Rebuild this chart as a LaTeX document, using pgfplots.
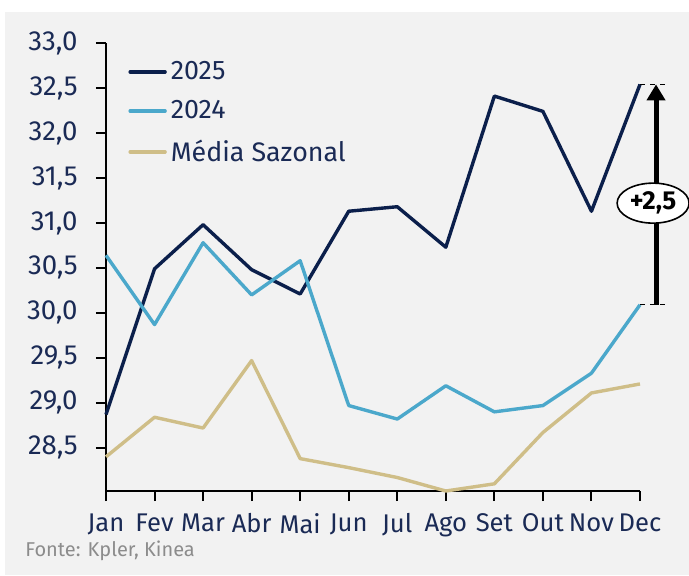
\documentclass[border=0pt]{standalone}
\usepackage{fontspec}
\setmainfont{Fira Sans}
\usepackage{pgfplots}
\pgfplotsset{compat=1.18}
\usetikzlibrary{arrows.meta,shapes.geometric}

\definecolor{navy}{HTML}{0B1F4B}
\definecolor{sky}{HTML}{4BA8CB}
\definecolor{sand}{HTML}{CFBE88}
\definecolor{txt}{HTML}{1A2A55}
\definecolor{bg}{HTML}{F2F2F2}

\begin{document}
\begin{tikzpicture}
\useasboundingbox (-53pt,-42pt) rectangle (291.5pt,245.5pt);
\fill[white] (-53pt,-42pt) rectangle (291.5pt,245.5pt);
\fill[bg] (-50.5pt,-42pt) rectangle (291.5pt,239.5pt);
\node[anchor=west, inner sep=0pt, text=black!45, font=\fontsize{10}{12}\selectfont]
  at (-40.5pt,-30pt) {Fonte: Kpler, Kinea};

\begin{axis}[
    at={(0,0)}, anchor=south west,
    scale only axis,
    width=267pt, height=224pt,
    xmin=1, xmax=12, ymin=28.02, ymax=33,
    axis lines*=left,
    axis line style={black, line width=1pt},
    xtick={1,...,12},
    xticklabels={Jan,Fev,Mar,Abr,Mai,Jun,Jul,Ago,Set,Out,Nov,Dec},
    ytick={28.5,29,...,33},
    tick align=outside,
    major tick length=5pt,
    tick style={black, line width=1pt},
    /pgf/number format/.cd, use comma, fixed, fixed zerofill, precision=1, assume math mode=true,
    /pgfplots/.cd,
    ticklabel style={text=txt},
    yticklabel style={font=\fontsize{13.8}{16}\selectfont, inner sep=0pt, xshift=-9pt},
    xticklabel style={font=\fontsize{12.8}{15}\selectfont, inner sep=0pt, yshift=-6pt},
    clip=false,
    legend cell align=left,
    legend image code/.code={\draw[#1, line cap=round] (0pt,0pt) -- (17.5pt,0pt);},
    legend style={draw=none, fill=none, at={(rel axis cs:0.03,0.978)}, anchor=north west,
        font=\fontsize{13.4}{16}\selectfont, text=txt, row sep=5pt},
    every axis plot/.append style={line width=1.7pt, line join=round},
]
\addplot[navy] coordinates {
 (1,28.87) (2,30.49) (3,30.98) (4,30.48) (5,30.21) (6,31.13)
 (7,31.18) (8,30.73) (9,32.41) (10,32.24) (11,31.13) (12,32.54)
};
\addlegendentry{2025}
\addplot[sky] coordinates {
 (1,30.64) (2,29.87) (3,30.78) (4,30.20) (5,30.58) (6,28.97)
 (7,28.82) (8,29.19) (9,28.90) (10,28.97) (11,29.33) (12,30.09)
};
\addlegendentry{2024}
\addplot[sand] coordinates {
 (1,28.40) (2,28.84) (3,28.72) (4,29.47) (5,28.38) (6,28.28)
 (7,28.17) (8,28.02) (9,28.10) (10,28.67) (11,29.11) (12,29.21)
};
\addlegendentry{Média Sazonal}

\draw[black, line width=0.7pt, dash pattern=on 2.5pt off 2.5pt] (axis cs:12,32.54) -- (axis cs:12.52,32.54);
\draw[black, line width=0.7pt, dash pattern=on 2.5pt off 2.5pt] (axis cs:12,30.09) -- (axis cs:12.52,30.09);
\draw[black, line width=2.5pt, -{Triangle[width=9pt,length=8pt]}] (axis cs:12.33,30.09) -- (axis cs:12.33,32.54);
\node[ellipse, draw=black, line width=0.8pt, fill=white, minimum width=36pt, minimum height=20pt, inner sep=0pt,
  font=\bfseries\fontsize{13}{15}\selectfont] at (axis cs:12.27,31.22) {+2,5};
\end{axis}
\end{tikzpicture}
\end{document}
